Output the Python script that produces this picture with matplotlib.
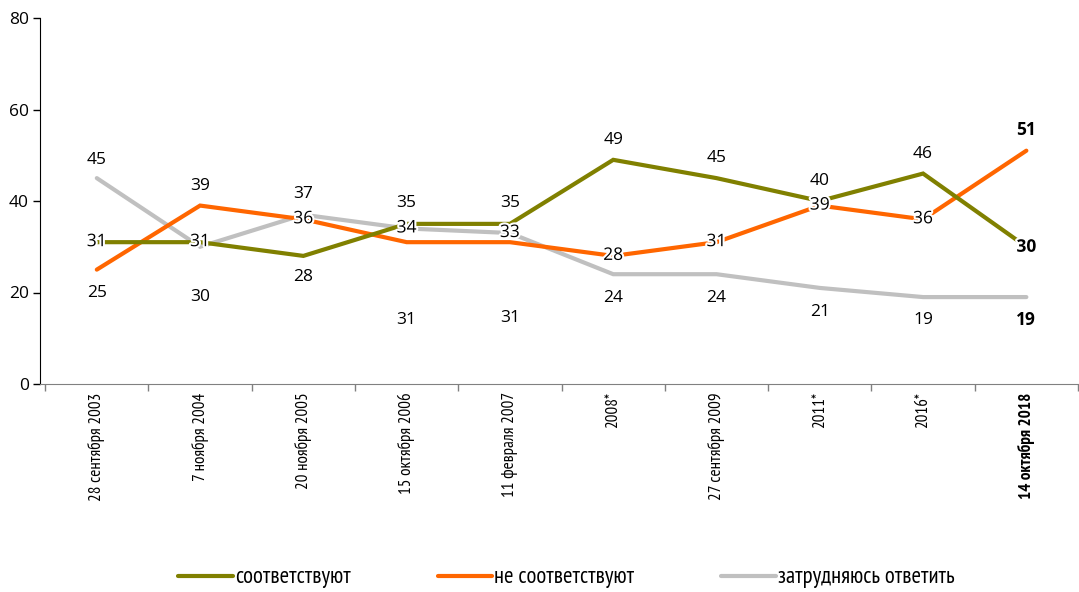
import matplotlib.pyplot as plt
import matplotlib.patheffects as pe

# survey waves (x axis) and the three answer shares, %
waves = ["28 сентября 2003", "7 ноября 2004", "20 ноября 2005", "15 октября 2006",
         "11 февраля 2007", "2008*", "27 сентября 2009", "2011*", "2016*",
         "14 октября 2018"]
match = [31, 31, 28, 35, 35, 49, 45, 40, 46, 30]
no_match = [25, 39, 36, 31, 31, 28, 31, 39, 36, 51]
unsure = [45, 30, 37, 34, 33, 24, 24, 21, 19, 19]
names = ["соответствуют", "не соответствуют", "затрудняюсь ответить"]

# vertical label offsets in pixels (0 = on the line)
match_dy = [0, 0, -21, 21, 21, 20, 20, 20, 20, 0]
no_match_dy = [-23, 20, 0, -78, -76, 0, 0, 0, 0, 21]
unsure_dy = [18, -50, 21, 0, 0, -24, -24, -24, -23, -23]

colors = ["#808000", "#ff6600", "#c0c0c0"]
body = ["Open Sans", "DejaVu Sans"]
narrow = ["PT Sans Narrow", "IBM Plex Sans Condensed", "DejaVu Sans"]

fig = plt.figure(figsize=(10.79, 5.92), dpi=100)
ax = fig.add_axes([40 / 1079, 208 / 592, 1038 / 1079, 366 / 592])

x = list(range(len(waves)))
series = [(match, match_dy), (no_match, no_match_dy), (unsure, unsure_dy)]
# gray first so the coloured lines sit on top
for i in [2, 1, 0]:
    vals, dys = series[i]
    ax.plot(x, vals, color=colors[i], lw=3, solid_capstyle="round",
            solid_joinstyle="miter", label=names[i], zorder=2 + (2 - i))

for i, (vals, dys) in enumerate(series):
    for xi, (v, dy) in enumerate(zip(vals, dys)):
        last = xi == len(vals) - 1
        t = ax.annotate(str(v), (xi, v), xytext=(0, dy), textcoords="offset pixels",
                        ha="center", va="center", fontsize=12.5, family=body,
                        fontweight="bold" if last else "normal", color="black",
                        zorder=10)
        if dy == 0:
            t.set_path_effects([pe.withStroke(linewidth=3, foreground="white")])

ax.set_xlim(-0.55, 9.43)
ax.set_ylim(0, 80)
ax.set_yticks([0, 20, 40, 60, 80])
ax.tick_params(axis="y", length=5, width=1, labelsize=12.5, pad=3)
for lab in ax.get_yticklabels():
    lab.set_family(body)

ax.set_xticks(x)
ax.set_xticklabels(waves, rotation=90, va="top", ha="center", fontsize=12.3,
                   family=narrow)
ax.get_xticklabels()[-1].set_fontweight("bold")
ax.tick_params(axis="x", which="major", length=0, pad=6)
ax.set_xticks([k + 0.5 for k in range(-1, 10)], minor=True)
ax.tick_params(axis="x", which="minor", length=5, width=1, color="#808080")

for s in ["top", "right"]:
    ax.spines[s].set_visible(False)
ax.spines["left"].set_color("black")
ax.spines["bottom"].set_color("#808080")

handles, labels = ax.get_legend_handles_labels()
order = [2, 1, 0]
leg = fig.legend([handles[k] for k in order], [labels[k] for k in order],
                 loc="center", bbox_to_anchor=(0.525, 14 / 592), ncol=3,
                 frameon=False, handlelength=2.4, handletextpad=0.1,
                 columnspacing=3.8, prop={"family": narrow, "size": 16.4})

fig.savefig("out.png", dpi=100)
